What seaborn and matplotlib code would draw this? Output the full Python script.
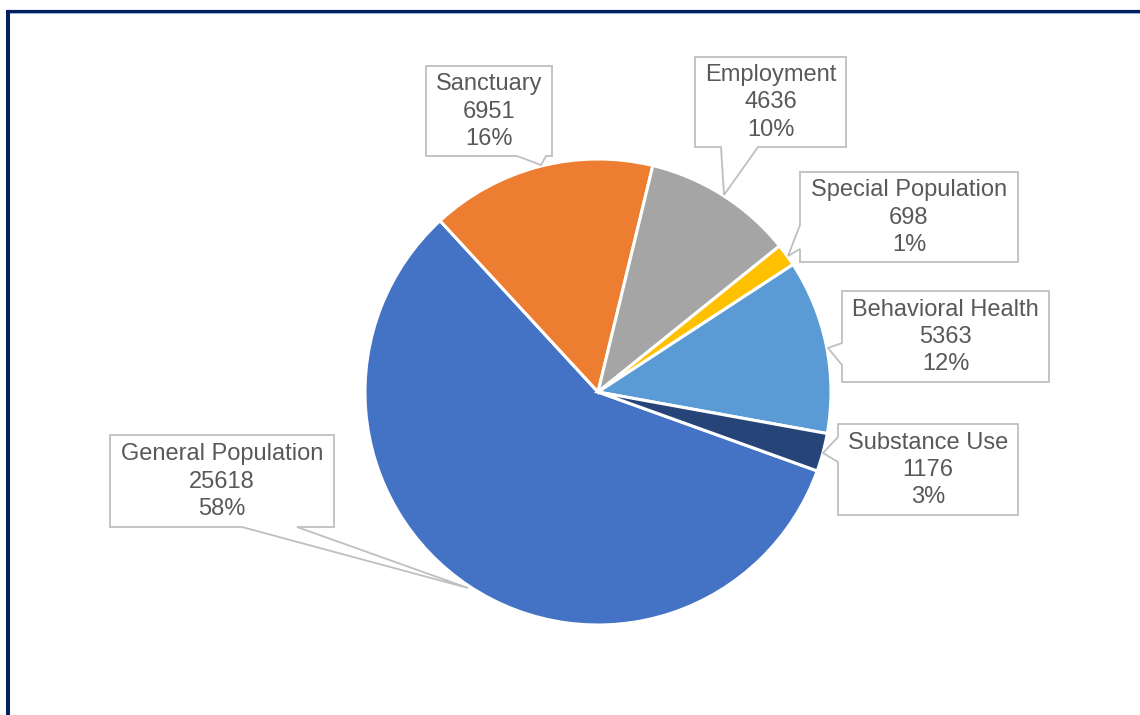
import matplotlib
matplotlib.use("Agg")
import matplotlib.pyplot as plt
from matplotlib.patches import Polygon
import seaborn as sns

# ---- data ----
categories = ["General Population", "Sanctuary", "Employment",
              "Special Population", "Behavioral Health", "Substance Use"]
values = [25618, 6951, 4636, 698, 5363, 1176]
pct_labels = ["58%", "16%", "10%", "1%", "12%", "3%"]
colors = ["#4472C4", "#ED7D31", "#A5A5A5", "#FFC000", "#5B9BD5", "#264478"]

sns.set_theme(style="white")
plt.rcParams["font.family"] = ["Liberation Sans", "DejaVu Sans"]

W, H = 1140, 715
fig = plt.figure(figsize=(W / 100, H / 100), dpi=100)
ax = fig.add_axes([0, 0, 1, 1])

def Y(y):  # pixel row -> data y
    return H - y

cx, cy, R = 598, 392, 233
ax.pie(values, colors=colors, center=(cx, Y(cy)), radius=R,
       startangle=340.2, counterclock=False, frame=True,
       wedgeprops=dict(edgecolor="white", linewidth=2.2))

ax.set_xlim(0, W)
ax.set_ylim(0, H)
ax.set_aspect("equal")
ax.axis("off")

# callout boxes: (left, top, right, bottom), side, wedge points (pixel coords)
callouts = {
    "General Population": ((110, 435, 334, 527), "bottom", [(297, 527), (468, 588), (242, 527)]),
    "Sanctuary": ((426, 66, 552, 156), "bottom", [(546, 156), (541, 165), (517, 156)]),
    "Employment": ((695, 57, 846, 147), "bottom", [(758, 147), (724, 195), (721, 147)]),
    "Special Population": ((800, 172, 1018, 262), "left", [(800, 249), (788, 256), (800, 225)]),
    "Behavioral Health": ((842, 291, 1049, 382), "left", [(842, 365), (828, 348), (842, 343)]),
    "Substance Use": ((838, 424, 1018, 515), "left", [(838, 462), (823, 453), (838, 437)]),
}

for cat, val, pct in zip(categories, values, pct_labels):
    (l, t, r, b), side, wpts = callouts[cat]
    if side == "bottom":
        verts = [(l, t), (r, t), (r, b)] + wpts + [(l, b)]
    else:
        verts = [(l, t), (r, t), (r, b), (l, b)] + wpts
    verts = [(x, Y(y)) for x, y in verts]
    ax.add_patch(Polygon(verts, closed=True, facecolor="white",
                         edgecolor="#BFBFBF", linewidth=1.3, zorder=5))
    ax.text((l + r) / 2, Y((t + b) / 2 + 0.5), f"{cat}\n{val}\n{pct}",
            ha="center", va="center", multialignment="center",
            fontsize=17, color="#595959", linespacing=1.3, zorder=6)

# frame border lines (top and left)
ax.plot([6, W], [Y(11), Y(11)], color="#002060", linewidth=2.3,
        solid_capstyle="butt", zorder=10)
ax.plot([6, W], [Y(13), Y(13)], color="#8EA9DB", linewidth=0.6,
        solid_capstyle="butt", zorder=10)
ax.plot([8, 8], [Y(9.8), 0], color="#002060", linewidth=2.9,
        solid_capstyle="butt", zorder=10)

fig.savefig("out.png", dpi=100, facecolor="white")
